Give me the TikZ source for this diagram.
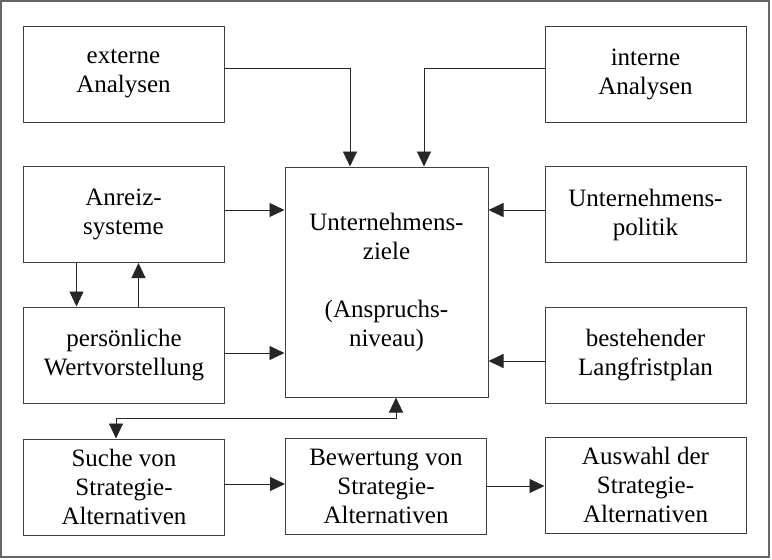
\documentclass[tikz,border=0pt]{standalone}
\usepackage{fontspec}
\setmainfont{Liberation Serif}
\usetikzlibrary{arrows.meta}
\begin{document}
\begin{tikzpicture}[x=1pt,y=-1pt,
  box/.style={draw=black!75,line width=1pt,minimum width=201pt,minimum height=96pt,
    align=center,inner sep=0pt,font=\fontsize{25}{29}\selectfont},
  conn/.style={draw=black!85,line width=0.9pt,-{Triangle[length=15pt,width=14pt]}},
  conn2/.style={draw=black!85,line width=0.9pt,{Triangle[length=15pt,width=14pt]}-{Triangle[length=15pt,width=14pt]}}]
\useasboundingbox (0,0) rectangle (772,560);
\draw[draw=black!60,line width=1.2pt] (1,1) rectangle (769,557);
\node[box] (ext) at (123.5,74) {externe\\Analysen};
\node[box] (int) at (645.5,74) {interne\\Analysen};
\node[box] (anr) at (123.5,214.5) {Anreiz-\\systeme};
\node[box] (pol) at (645.5,214.5) {Unternehmens-\\politik};
\node[box,minimum width=203pt,minimum height=230pt] (ziel) at (386.5,282) {Unternehmens-\\ziele\\[29pt](Anspruchs-\\niveau)};
\node[box] (pers) at (124,355) {persönliche\\Wertvorstellung};
\node[box] (best) at (645.5,355) {bestehender\\Langfristplan};
\node[box] (such) at (124,487) {Suche von\\Strategie-\\Alternativen};
\node[box] (bew) at (386,486.5) {Bewertung von\\Strategie-\\Alternativen};
\node[box] (ausw) at (645.5,485) {Auswahl der\\Strategie-\\Alternativen};
\draw[conn] ([yshift=6]ext.east) -| ([xshift=-36.5]ziel.north);
\draw[conn] ([yshift=6]int.west) -| ([xshift=37.5]ziel.north);
\draw[conn] ([yshift=4.5]anr.east) -- ([yshift=4.5]anr.east -| ziel.west);
\draw[conn] ([yshift=4.5]pol.west) -- ([yshift=4.5]pol.west -| ziel.east);
\draw[conn] ([yshift=2]pers.east) -- ([yshift=2]pers.east -| ziel.west);
\draw[conn] ([yshift=-6]best.west) -- ([yshift=-6]best.west -| ziel.east);
\draw[conn] ([xshift=-47]anr.south) -- ([xshift=-47]anr.south |- pers.north);
\draw[conn] ([xshift=14.5]pers.north) -- ([xshift=14.5]pers.north |- anr.south);
\coordinate (mid) at (0,418);
\draw[conn2] ([xshift=9.5]ziel.south) -- ([xshift=9.5]ziel.south |- mid) -| ([xshift=-8]such.north);
\draw[conn] ([yshift=3]such.east) -- ([yshift=3]such.east -| bew.west);
\draw[conn] ([yshift=0.5]bew.east) -- ([yshift=0.5]bew.east -| ausw.west);
\end{tikzpicture}
\end{document}
